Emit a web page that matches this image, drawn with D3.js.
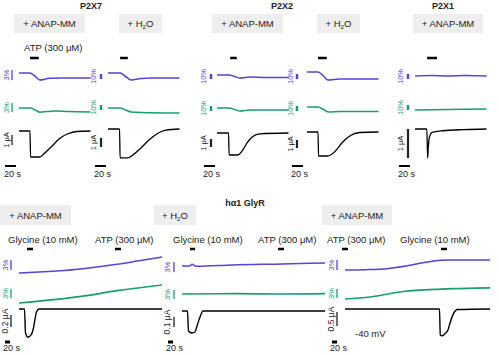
<!DOCTYPE html>
<html><head><meta charset="utf-8">
<script src="https://cdn.jsdelivr.net/npm/d3@7"></script>
<style>
body{margin:0;background:#fff;}
svg{display:block;font-family:"Liberation Sans",Arial,sans-serif;}
</style></head>
<body><svg id="c" width="500" height="356"></svg>
<script>
// ---------- DATA ----------
const topTitles = ["P2X7", "P2X2", "P2X1"];
const topConditions = ["+ ANAP-MM", "+ H2O", "+ ANAP-MM", "+ H2O", "+ ANAP-MM"];
const bottomTitle = "hα1 GlyR";
const bottomConditions = ["+ ANAP-MM", "+ H2O", "+ ANAP-MM"];
const topStim = [[20, 36], [22, 36], [24, 36], [20, 36], [22, 40]]; // s
const topPurpleScaleLabels = ["3%", "10%", "10%", "10%", "10%"];
const topPurpleScaleValues = [3, 10, 10, 10, 10];
const topCurrentScaleValues = [1, 1, 1, 1, 1]; // μA

// top traces: [time s, value]
const p2x7AnapPurple = [[0,0],[20,0],[28,-0.8],[38,-2.1],[55,-1.6],[80,-1.5],[130,-1.5]];
const p2x7AnapGreen = [[0,0],[20,0],[30,-0.7],[38,-1.4],[50,-1.2],[65,-1.0],[90,-1.2],[130,-1.3]];
const p2x7AnapCurrent = [[0,0],[20,0],[21,-2.6],[38,-2.6],[45,-2.3],[60,-1.5],[75,-0.7],[90,-0.25],[105,-0.05],[130,0]];
const p2x7H2oPurple = [[0,0],[22,0],[32,-7],[42,-14],[60,-11],[80,-10],[130,-10]];
const p2x7H2oGreen = [[0,0],[22,0],[32,-4],[42,-8],[60,-9],[130,-10]];
const p2x7H2oCurrent = [[0,0],[21,0],[22,-3.2],[36,-3.2],[45,-2.9],[60,-2.1],[75,-1.2],[90,-0.5],[105,-0.12],[130,0]];
const p2x2AnapPurple = [[0,0],[22,0],[32,-3],[42,-6],[60,-4],[90,-5],[130,-5]];
const p2x2AnapGreen = [[0,0],[22,0],[32,-3],[42,-6],[60,-4],[130,-4]];
const p2x2AnapCurrent = [[0,0],[21,0],[22,-2.75],[38,-2.75],[45,-2.3],[55,-1.2],[65,-0.45],[78,-0.1],[130,0]];
const p2x2H2oPurple = [[0,0],[20,0],[30,-8],[38,-16],[60,-14],[90,-14],[130,-14]];
const p2x2H2oGreen = [[0,0],[20,0],[30,-5],[40,-10],[60,-9],[130,-9]];
const p2x2H2oCurrent = [[0,0],[20,0],[21,-3],[38,-3],[50,-2.5],[65,-1.25],[80,-0.4],[96,-0.06],[130,0]];
const p2x1AnapPurple = [[0,0],[30,1],[60,0],[90,1],[130,0]];
const p2x1AnapGreen = [[0,0],[60,1],[130,2]];
const p2x1AnapCurrent = [[0,0],[21.5,0],[23,-1.0],[24,-0.7],[26,-0.3],[31,-0.12],[50,-0.06],[90,-0.02],[130,0]];

// bottom (GlyR)
const glyStimLabels = [["Glycine (10 mM)", "ATP (300 μM)"], ["Glycine (10 mM)", "ATP (300 μM)"], ["ATP (300 μM)", "Glycine (10 mM)"]];
const glyStim = [[[32,56],[384,408]], [[32,52],[384,408]], [[-12,12],[384,408]]];
const glyCurrentScaleLabels = ["0.2 μA", "0.1 μA", "0.5 μA"];
const glyCurrentScaleValues = [0.2, 0.1, 0.5];
const glyAnapPurple = [[0,0],[256,1.3],[392,2.6],[480,3.7],[572,4.8]];
const glyAnapGreen = [[0,0],[256,2.3],[392,4.1],[572,6]];
const glyAnapCurrent = [[0,0],[22,0],[26,-0.4],[36,-0.47],[50,-0.42],[56,-0.35],[62,-0.22],[70,-0.05],[80,0],[572,0]];
const glyH2oPurple = [[0,0],[30,0],[40,0.5],[52,0],[60,-0.1],[200,0.3],[400,0.6],[572,0.9]];
const glyH2oGreen = [[0,0],[200,0.1],[400,0],[572,0.1]];
const glyH2oCurrent = [[0,0],[22,0],[26,-0.2],[40,-0.22],[52,-0.21],[60,-0.15],[72,-0.06],[84,0],[572,0]];
const glyAnap2Purple = [[0,0],[80,0.1],[168,0.4],[250,1.3],[330,2.4],[384,2.9],[420,3.0],[580,3.0]];
const glyAnap2Green = [[0,0],[100,0.67],[232,2.5],[384,3.3],[580,3.7]];
const glyAnap2Current = [[0,0],[378,0],[381,-0.92],[388,-0.96],[400,-0.88],[412,-0.75],[420,-0.5],[432,-0.2],[450,-0.02],[580,0]];
const holdingLabel = "-40 mV";

// ---------- LAYOUT ----------
const PURPLE = "#5b3fd9", GREEN = "#1a9c74", INK = "#222";
const svg = d3.select("#c");

function condText(g, x, y, label, size) {
  const t = g.append("text").attr("x", x).attr("y", y).attr("text-anchor", "middle")
    .attr("font-size", size).attr("fill", INK);
  if (label.includes("H2O")) {
    t.append("tspan").text("+ H");
    t.append("tspan").text("2").attr("font-size", size * 0.65).attr("dy", 2);
    t.append("tspan").text("O").attr("dy", -2);
  } else t.text(label);
}
function box(x0, x1, y0, y1, label) {
  svg.append("rect").attr("x", x0).attr("y", y0).attr("width", x1 - x0).attr("height", y1 - y0).attr("fill", "#eeeeee");
  condText(svg, (x0 + x1) / 2, (y0 + y1) / 2 + 3.5, label, 9.5);
}
const line = (x, y) => d3.line().x(d => x(d[0])).y(d => y(d[1])).curve(d3.curveMonotoneX);

function vScale(xBar, xTxt, yBottom, y, val, label, color, w, fs) {
  const len = Math.abs(y(val) - y(0));
  svg.append("line").attr("x1", xBar).attr("x2", xBar).attr("y1", yBottom - len).attr("y2", yBottom)
    .attr("stroke", color).attr("stroke-width", w);
  svg.append("text").attr("transform", `translate(${xTxt + 3},${yBottom - len / 2}) rotate(-90)`)
    .attr("text-anchor", "middle").attr("font-size", fs).attr("fill", color).text(label);
}

// Top titles
const topTitleX = [91, 282, 443];
topTitles.forEach((t, i) => svg.append("text").attr("x", topTitleX[i]).attr("y", 9).attr("text-anchor", "middle")
  .attr("font-size", 9).attr("font-weight", "bold").attr("fill", INK).text(t));
const topBoxes = [[14,85],[119,162],[212,283],[317,360],[413,483]];
topBoxes.forEach((b, i) => box(b[0], b[1], 14, 33, topConditions[i]));
svg.append("text").attr("x", 24).attr("y", 51).attr("font-size", 9.5).attr("fill", INK).text("ATP (300 μM)");

const topPanels = [
  {x0:19, pB:73, gB:108, cB:131, pPx:10, gPx:9, cPx:10, bar:12, txt:6, pBot:80, gBot:112, cBot:145, tX:5, w:1.3, data:[p2x7AnapPurple,p2x7AnapGreen,p2x7AnapCurrent]},
  {x0:108, pB:73, gB:108, cB:129, pPx:5, gPx:5, cPx:9, bar:101, txt:93, pBot:79, gBot:110, cBot:147, tX:95, w:2.5, data:[p2x7H2oPurple,p2x7H2oGreen,p2x7H2oCurrent]},
  {x0:217, pB:75, gB:108, cB:133, pPx:5, gPx:5, cPx:8, bar:211, txt:203, pBot:79, gBot:111, cBot:147, tX:204, w:2.5, data:[p2x2AnapPurple,p2x2AnapGreen,p2x2AnapCurrent]},
  {x0:307, pB:72, gB:107, cB:132, pPx:5, gPx:5, cPx:8, bar:297, txt:290, pBot:79, gBot:111, cBot:148, tX:292, w:2.5, data:[p2x2H2oPurple,p2x2H2oGreen,p2x2H2oCurrent]},
  {x0:415, pB:76, gB:110, cB:129, pPx:5, gPx:5, cPx:29, bar:408, txt:400, pBot:79, gBot:110, cBot:158, tX:399, w:2.5, data:[p2x1AnapPurple,p2x1AnapGreen,p2x1AnapCurrent]},
];
const topPxPerSec = 0.55, topT = 130;
topPanels.forEach((p, i) => {
  const x = d3.scaleLinear().domain([0, topT]).range([p.x0, p.x0 + topT * topPxPerSec]);
  const pv = topPurpleScaleValues[i], cv = topCurrentScaleValues[i];
  const yP = d3.scaleLinear().domain([0, pv]).range([p.pB, p.pB - p.pPx]);
  const yG = d3.scaleLinear().domain([0, pv]).range([p.gB, p.gB - p.gPx]);
  const yC = d3.scaleLinear().domain([0, cv]).range([p.cB, p.cB - p.cPx]);
  svg.append("path").attr("d", line(x, yP)(p.data[0])).attr("fill", "none").attr("stroke", PURPLE).attr("stroke-width", 1.5);
  svg.append("path").attr("d", line(x, yG)(p.data[1])).attr("fill", "none").attr("stroke", GREEN).attr("stroke-width", 1.5);
  svg.append("path").attr("d", line(x, yC)(p.data[2])).attr("fill", "none").attr("stroke", "#000").attr("stroke-width", 1.3);
  svg.append("line").attr("x1", x(topStim[i][0])).attr("x2", x(topStim[i][1])).attr("y1", 58).attr("y2", 58).attr("stroke", "#000").attr("stroke-width", 2.5);
  vScale(p.bar, p.txt, p.pBot, yP, pv, topPurpleScaleLabels[i], PURPLE, p.w, 7.5);
  vScale(p.bar, p.txt, p.gBot, yG, pv, topPurpleScaleLabels[i], GREEN, p.w, 7.5);
  vScale(p.bar, p.txt, p.cBot, yC, cv, cv + " μA", INK, i === 0 ? 1.3 : 2.2, 7.5);
  const tl = x(20) - x(0);
  svg.append("line").attr("x1", p.tX).attr("x2", p.tX + tl).attr("y1", 166).attr("y2", 166).attr("stroke", "#000").attr("stroke-width", 2);
  svg.append("text").attr("x", p.tX - 1).attr("y", 177).attr("font-size", 9).attr("fill", INK).text("20 s");
});

// Bottom
svg.append("text").attr("x", 245).attr("y", 206).attr("text-anchor", "middle").attr("font-size", 9).attr("font-weight", "bold").attr("fill", INK).text(bottomTitle);
const botBoxes = [[0,71],[154,196],[322,392]];
botBoxes.forEach((b, i) => box(b[0], b[1], 205, 225, bottomConditions[i]));
const botPanels = [
  {x0:19, T:572, pB:273, gB:303, cB:309, cPx:12, bar:11, txt:5, pBot:270, gBot:298, cBot:327, tX:5, lbl:[8,95], data:[glyAnapPurple,glyAnapGreen,glyAnapCurrent]},
  {x0:182, T:572, pB:266, gB:294, cB:311, cPx:10, bar:174, txt:167, pBot:272, gBot:299, cBot:327, tX:168, lbl:[173,258], data:[glyH2oPurple,glyH2oGreen,glyH2oCurrent]},
  {x0:345, T:580, pB:270, gB:299, cB:309, cPx:14, bar:337, txt:331, pBot:270, gBot:298, cBot:326, tX:332, lbl:[327,400], data:[glyAnap2Purple,glyAnap2Green,glyAnap2Current]},
];
const botPxPerSec = 0.25;
botPanels.forEach((p, i) => {
  const x = d3.scaleLinear().domain([0, p.T]).range([p.x0, p.x0 + p.T * botPxPerSec]);
  const yP = d3.scaleLinear().domain([0, 3]).range([p.pB, p.pB - 10]);
  const yG = d3.scaleLinear().domain([0, 3]).range([p.gB, p.gB - 9]);
  const cv = glyCurrentScaleValues[i];
  const yC = d3.scaleLinear().domain([0, cv]).range([p.cB, p.cB - p.cPx]);
  svg.append("path").attr("d", line(x, yP)(p.data[0])).attr("fill", "none").attr("stroke", PURPLE).attr("stroke-width", 1.5);
  svg.append("path").attr("d", line(x, yG)(p.data[1])).attr("fill", "none").attr("stroke", GREEN).attr("stroke-width", 1.7);
  svg.append("path").attr("d", line(x, yC)(p.data[2])).attr("fill", "none").attr("stroke", "#000").attr("stroke-width", 1.4);
  glyStim[i].forEach((s, j) => {
    svg.append("line").attr("x1", x(s[0])).attr("x2", x(s[1])).attr("y1", 249).attr("y2", 249).attr("stroke", "#000").attr("stroke-width", 2.5);
    svg.append("text").attr("x", p.lbl[j]).attr("y", 243).attr("font-size", 9.5).attr("fill", INK).text(glyStimLabels[i][j]);
  });
  vScale(p.bar, p.txt, p.pBot, yP, 3, "3%", PURPLE, 1.3, 7.5);
  vScale(p.bar, p.txt, p.gBot, yG, 3, "3%", GREEN, 1.3, 7.5);
  vScale(p.bar, p.txt, p.cBot, yC, cv, glyCurrentScaleLabels[i], INK, 1.3, 8.5);
  const tl = x(20) - x(0);
  svg.append("line").attr("x1", p.tX).attr("x2", p.tX + tl).attr("y1", 342).attr("y2", 342).attr("stroke", "#000").attr("stroke-width", 3);
  svg.append("text").attr("x", p.tX - 2).attr("y", 351).attr("font-size", 9).attr("fill", INK).text("20 s");
});
svg.append("text").attr("x", 355).attr("y", 337).attr("font-size", 9.5).attr("fill", INK).text(holdingLabel);
</script></body></html>
